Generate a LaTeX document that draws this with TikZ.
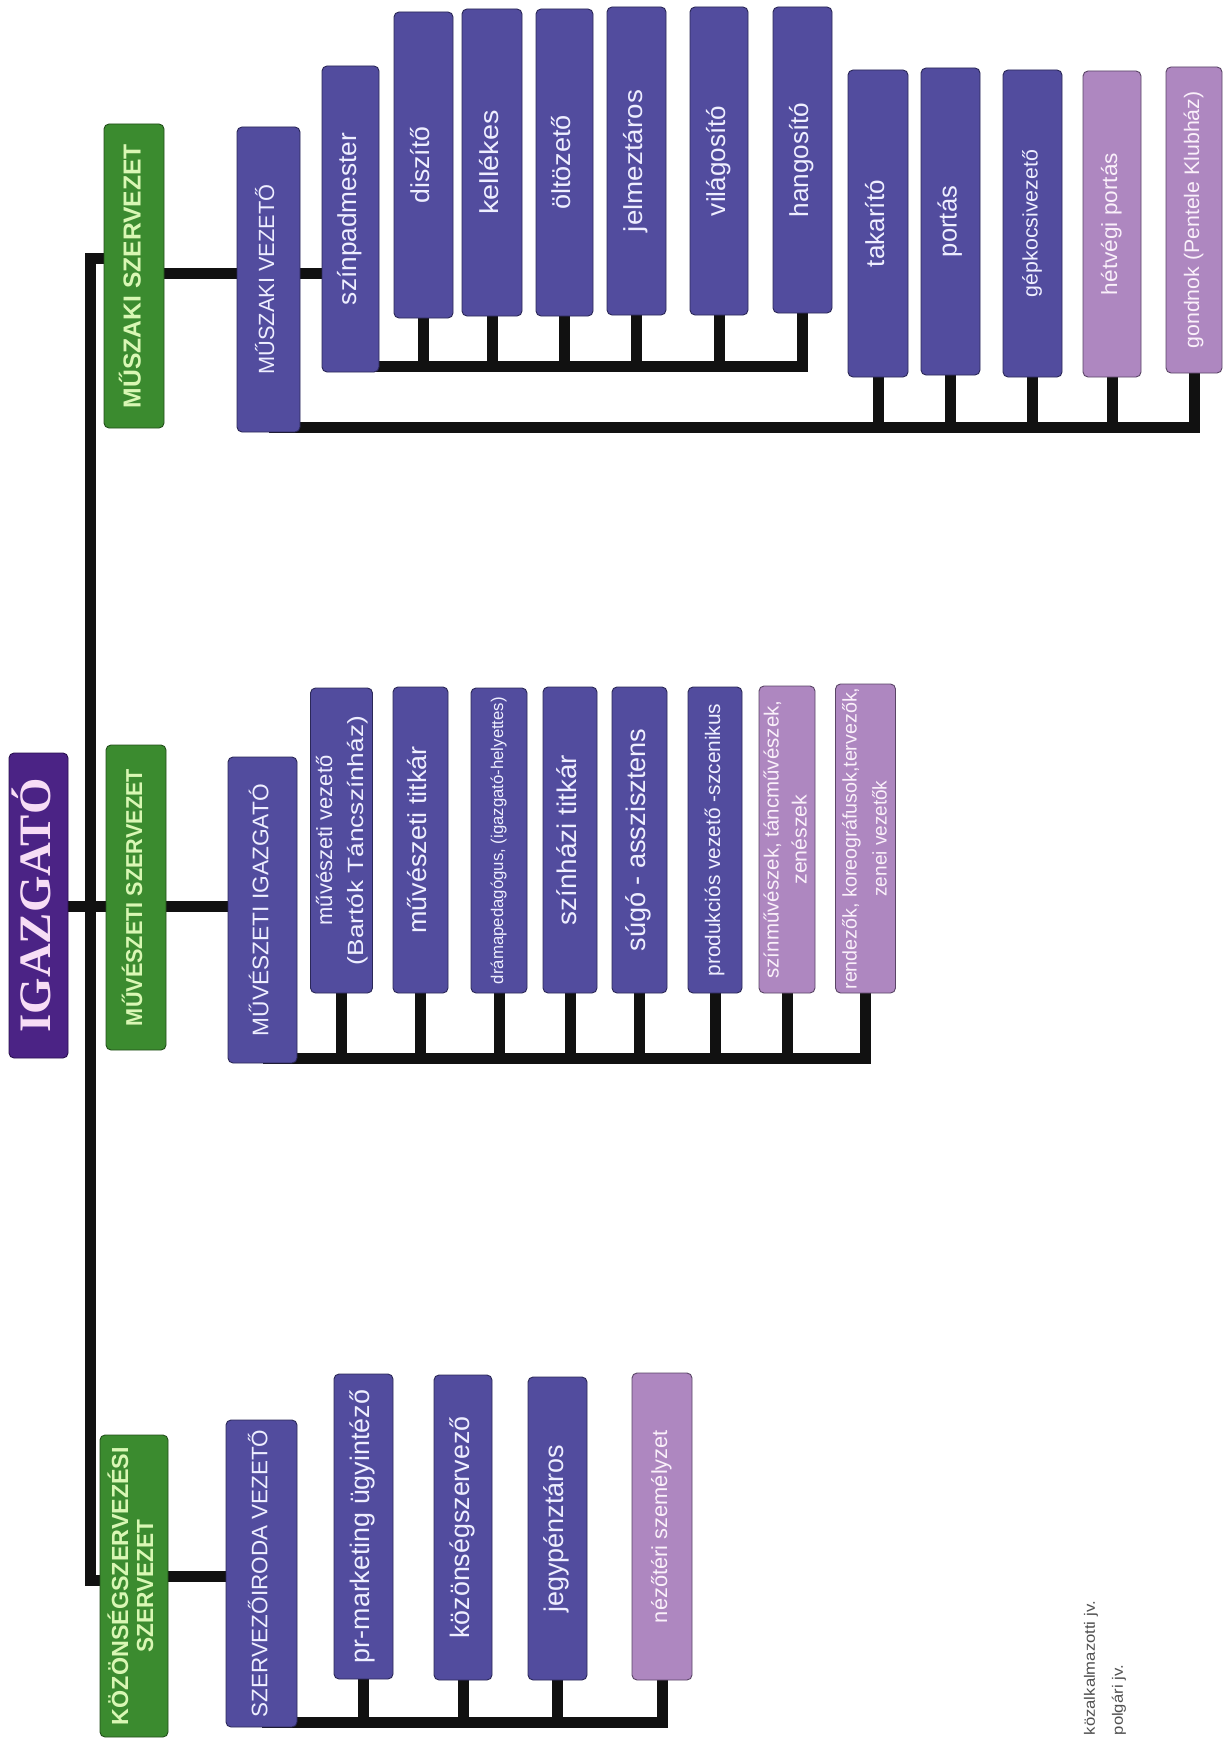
\documentclass[tikz,border=0pt]{standalone}
\usepackage{fontspec}
\setmainfont{Liberation Sans}
\newfontfamily\serfont{Liberation Serif}
\usepackage{graphicx}
\usetikzlibrary{backgrounds}

\definecolor{grn}{HTML}{3B8B2F}
\definecolor{grnB}{HTML}{234F1B}
\definecolor{grnT}{HTML}{D9F7B4}
\definecolor{pur}{HTML}{524C9E}
\definecolor{purB}{HTML}{2B2858}
\definecolor{purT}{HTML}{EEEEFF}
\definecolor{lil}{HTML}{AE87C0}
\definecolor{lilB}{HTML}{5A4566}
\definecolor{lilT}{HTML}{FAF0FA}
\definecolor{dir}{HTML}{4B2385}
\definecolor{dirB}{HTML}{2A1050}
\definecolor{dirT}{HTML}{F7DDF5}
\definecolor{leg}{HTML}{505050}
\definecolor{linec}{HTML}{111111}

% rotated text block: size, baselineskip, lines
\newcommand\VT[3]{\rotatebox{90}{\fontsize{#1}{#2}\selectfont\begin{tabular}{@{}c@{}}#3\end{tabular}}}
% one line stretched to a given length
\newcommand\LL[2]{\resizebox{#1pt}{\height}{#2}}
% box: name, style, x1, y1, x2, y2, content
\newcommand\bx[7]{\node[#2, minimum width={(#5-#3)*1pt}, minimum height={(#6-#4)*1pt}] (#1) at ({(#3+#5)/2},{(#4+#6)/2}) {#7};}

\tikzset{
  box/.style={rounded corners=5pt, inner sep=0pt, outer sep=0pt, line width=0.9pt},
  grnbox/.style={box, fill=grn, draw=grnB, text=grnT, font=\bfseries},
  purbox/.style={box, fill=pur, draw=purB, text=purT},
  lilbox/.style={box, fill=lil, draw=lilB, text=lilT},
  dirbox/.style={box, fill=dir, draw=dirB, text=dirT},
  conn/.style={line width=11pt, draw=linec, line cap=butt, line join=miter},
  legtext/.style={anchor=north, inner sep=0pt, text=leg},
}

\begin{document}
\begin{tikzpicture}[x=1pt, y=-1pt]
\useasboundingbox (0,0) rectangle (1223,1739);
\begin{scope}[on background layer]
  \fill[white] (0,0) rectangle (1223,1739);
\end{scope}

% ---------- top group: MŰSZAKI ----------
\bx{msz}{grnbox}{104}{124}{164}{428}{\VT{24.6}{28}{\LL{264}{MŰSZAKI SZERVEZET}}}
\bx{mv}{purbox}{237}{127}{300}{432}{\VT{22}{26}{\LL{190}{MŰSZAKI VEZETŐ}}}
\bx{szinpad}{purbox}{322}{66}{379}{372}{\VT{26}{30}{\LL{172}{színpadmester}}}
\bx{diszito}{purbox}{394}{12}{453}{318}{\VT{26}{30}{\LL{77}{diszítő}}}
\bx{kellekes}{purbox}{462}{9}{522}{316}{\VT{26}{30}{\LL{104}{kellékes}}}
\bx{oltozeto}{purbox}{536}{9}{593}{316}{\VT{26}{30}{\LL{95}{öltözető}}}
\bx{jelmez}{purbox}{607}{7}{666}{315}{\VT{26}{30}{\LL{142}{jelmeztáros}}}
\bx{vilagosito}{purbox}{690}{7}{748}{315}{\VT{26}{30}{\LL{110}{világosító}}}
\bx{hangosito}{purbox}{773}{7}{832}{313}{\VT{26}{30}{\LL{115}{hangosító}}}
\bx{takarito}{purbox}{848}{70}{908}{377}{\VT{26}{30}{\LL{87}{takarító}}}
\bx{portas}{purbox}{921}{68}{980}{375}{\VT{26}{30}{\LL{71}{portás}}}
\bx{gepkocsi}{purbox}{1003}{70}{1062}{377}{\VT{21}{25}{\LL{147}{gépkocsivezető}}}
\bx{hetvegi}{lilbox}{1083}{71}{1141}{377}{\VT{22}{26}{\LL{142}{hétvégi portás}}}
\bx{gondnok}{lilbox}{1166}{67}{1222}{373}{\VT{21}{25}{\LL{257}{gondnok (Pentele Klubház)}}}

% ---------- middle group: MŰVÉSZETI ----------
\bx{igaz}{dirbox}{9}{753}{68}{1058}{\VT{45}{50}{\serfont\bfseries\LL{254}{IGAZGATÓ}}}
\bx{mus}{grnbox}{106}{745}{166}{1050}{\VT{23}{27}{\LL{257}{MŰVÉSZETI SZERVEZET}}}
\bx{mi}{purbox}{228}{757}{297}{1063}{\VT{22.6}{26}{\LL{252}{MŰVÉSZETI IGAZGATÓ}}}
\bx{mvez}{purbox}{312}{688}{371}{993}{\VT{22}{31}{\LL{170}{művészeti vezető}\\\LL{249}{(Bartók Táncszínház)}}}
\bx{mtit}{purbox}{393}{687}{448}{993}{\VT{26}{30}{\LL{187}{művészeti titkár}}}
\bx{drama}{purbox}{471}{688}{527}{993}{\VT{17}{20}{\LL{287}{drámapedagógus, (igazgató-helyettes)}}}
\bx{szthi}{purbox}{543}{687}{597}{993}{\VT{27}{30}{\LL{170}{színházi titkár}}}
\bx{sugo}{purbox}{612}{687}{667}{993}{\VT{27}{30}{\LL{223}{súgó - asszisztens}}}
\bx{prod}{purbox}{688}{687}{742}{993}{\VT{21}{25}{\LL{273}{produkciós vezető -szcenikus}}}
\bx{szinm}{lilbox}{759}{686}{815}{993}{\VT{20.5}{28}{\LL{278}{színművészek, táncművészek,}\\\LL{90}{zenészek}}}
\bx{rend}{lilbox}{838}{684}{893}{993}{\VT{19.7}{30}{\LL{302}{rendezők, koreográfusok,tervezők,}\\\LL{116}{zenei vezetők}}}

% ---------- bottom group: KÖZÖNSÉG ----------
\bx{koz}{grnbox}{100}{1435}{168}{1737}{\VT{23.3}{25}{\LL{278}{KÖZÖNSÉGSZERVEZÉSI}\\\LL{133}{SZERVEZET}}}
\bx{szi}{purbox}{226}{1420}{297}{1727}{\VT{22.4}{26}{\LL{288}{SZERVEZŐIRODA VEZETŐ}}}
\bx{prm}{purbox}{334}{1374}{393}{1679}{\VT{26.8}{30}{\LL{273}{pr-marketing ügyintéző}}}
\bx{kozsz}{purbox}{434}{1375}{492}{1680}{\VT{26.8}{30}{\LL{222}{közönségszervező}}}
\bx{jegy}{purbox}{528}{1377}{587}{1680}{\VT{27}{30}{\LL{168}{jegypénztáros}}}
\bx{nezo}{lilbox}{632}{1373}{692}{1680}{\VT{21.8}{26}{\LL{193}{nézőtéri személyzet}}}

% ---------- legend ----------
\node[legtext] (lg1) at (1091,1601) {\rotatebox{90}{\fontsize{15}{18}\selectfont\LL{134}{közalkalmazotti jv.}}};
\node[legtext] (lg2) at (1119,1665) {\rotatebox{90}{\fontsize{15}{18}\selectfont\LL{70}{polgári jv.}}};

% ---------- connector levels ----------
\coordinate (tTop) at (90,258);
\coordinate (tBot) at (90,1580);
\coordinate (hubM) at (90,906);
\coordinate (yA) at (0,273);
\coordinate (busU) at (0,366);
\coordinate (busL) at (0,427);
\coordinate (busM) at (0,1058);
\coordinate (yB) at (0,1576);
\coordinate (busB) at (0,1722);

\begin{scope}[on background layer]
  % trunk
  \draw[conn] (msz.center |- tTop) -- (tTop) -- (tBot) -- (koz.center |- tBot);
  \draw[conn] (igaz.center |- hubM) -- (mus.center |- hubM);
  % top group
  \draw[conn] (msz.center |- yA) -- (mv.center |- yA);
  \draw[conn] (mv.center |- yA) -- (szinpad.center |- yA);
  \draw[conn] (szinpad.center |- busU) -| (hangosito.center);
  \foreach \n in {diszito,kellekes,oltozeto,jelmez,vilagosito}
    \draw[conn] (\n.center) -- (\n.center |- busU);
  \draw[conn] (mv.center |- busL) -| (gondnok.center);
  \foreach \n in {takarito,portas,gepkocsi,hetvegi}
    \draw[conn] (\n.center) -- (\n.center |- busL);
  % middle group
  \draw[conn] (mus.center |- hubM) -- (mi.center |- hubM);
  \draw[conn] (mi.center |- busM) -| (rend.center);
  \foreach \n in {mvez,mtit,drama,szthi,sugo,prod,szinm}
    \draw[conn] (\n.center) -- (\n.center |- busM);
  % bottom group
  \draw[conn] (koz.center |- yB) -- (szi.center |- yB);
  \draw[conn] (szi.center |- busB) -| (nezo.center);
  \foreach \n in {prm,kozsz,jegy}
    \draw[conn] (\n.center) -- (\n.center |- busB);
\end{scope}
\end{tikzpicture}
\end{document}
